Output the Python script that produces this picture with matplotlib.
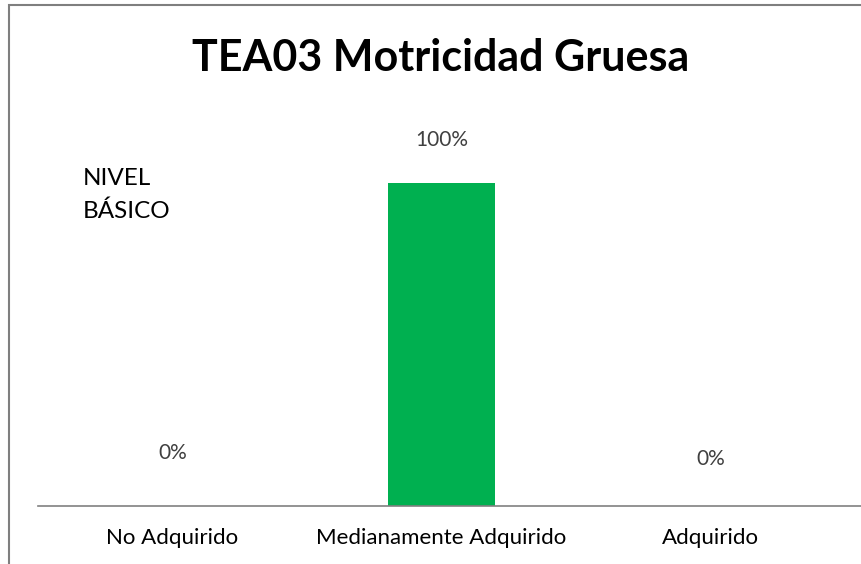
import matplotlib.pyplot as plt
from matplotlib.patches import Rectangle

categories = ["No Adquirido", "Medianamente Adquirido", "Adquirido"]
values = [0.0, 1.0, 0.0]
value_labels = ["0%", "100%", "0%"]
label_offsets = [0.164, 0.133, 0.146]

W, H = 861, 564
plt.rcParams["font.family"] = ["Lato", "DejaVu Sans"]

fig = plt.figure(figsize=(W / 100, H / 100), dpi=100)

# chart border (cut off on right and bottom like the source image)
fig.patches.append(Rectangle((9 / W, -0.1), 1.2, (H - 5) / H + 0.1,
                             transform=fig.transFigure, fill=False,
                             edgecolor="#7f7f7f", linewidth=1.5))

ax = fig.add_axes([38 / W, (H - 506) / H, (W - 38) / W, 406 / H])
x = range(len(categories))
ax.bar(x, values, width=0.40, color="#00B050")
ax.set_xlim(-0.5, 2.56)
ax.set_ylim(0, 406 / 323)

for i, (v, lab, off) in enumerate(zip(values, value_labels, label_offsets)):
    ax.text(i, v + off, lab, ha="center", va="center", fontsize=15, color="#404040")

ax.set_xticks(list(x))
ax.set_xticklabels(categories, fontsize=16)
ax.tick_params(axis="x", length=0, pad=16)
ax.set_yticks([])
for side in ["top", "right", "left"]:
    ax.spines[side].set_visible(False)
ax.spines["bottom"].set_color("#808080")
ax.spines["bottom"].set_linewidth(1.2)

fig.text(441 / W, 1 - 58 / H, "TEA03 Motricidad Gruesa", ha="center", va="center",
         fontsize=31, fontweight="bold")
fig.text(83 / W, 1 - 195 / H, "NIVEL\nBÁSICO", ha="left", va="center",
         fontsize=17.5, linespacing=1.7)

fig.savefig("out.png", dpi=100)
